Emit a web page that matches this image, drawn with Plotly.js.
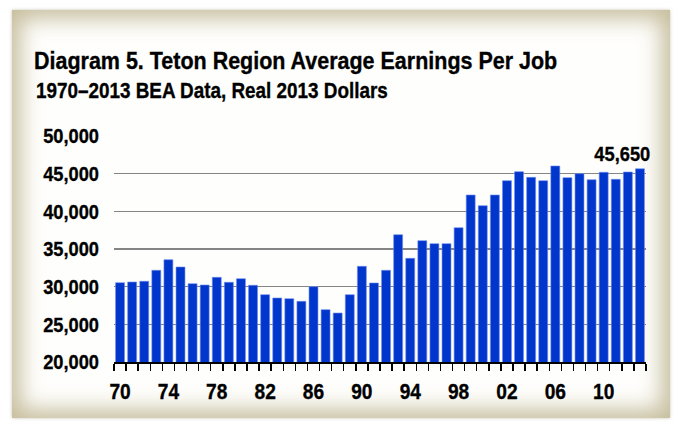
<!DOCTYPE html>
<html>
<head>
<meta charset="utf-8">
<script src="https://cdn.plot.ly/plotly-3.0.1.min.js"></script>
<style>
  html, body { margin: 0; padding: 0; background: #ffffff; }
  #wrap { position: relative; width: 675px; height: 422px; overflow: hidden; }
  #frame {
    position: absolute; left: 12px; top: 10px; width: 658px; height: 408px;
    background: #fefefc;
    box-shadow: inset 0 0 22px 8px rgba(178,165,122,0.75), 0 0 3px rgba(150,140,110,0.5);
  }
  #chart { position: absolute; left: 0; top: 0; width: 675px; height: 422px; }
  #chart text { stroke: #000; stroke-width: 0.35px; }
</style>
</head>
<body>
<div id="wrap">
  <div id="frame"></div>
  <div id="chart"></div>
</div>
<script>
const years = [1970,1971,1972,1973,1974,1975,1976,1977,1978,1979,1980,1981,1982,1983,1984,1985,1986,1987,1988,1989,1990,1991,1992,1993,1994,1995,1996,1997,1998,1999,2000,2001,2002,2003,2004,2005,2006,2007,2008,2009,2010,2011,2012,2013];
const earnings = [30530,30620,30710,32170,33580,32610,30400,30220,31240,30580,31060,30180,28940,28500,28410,28050,30000,26950,26500,28940,32700,30490,32170,36900,33760,36110,35710,35710,37830,42170,40750,42170,44070,45270,44510,44070,46020,44470,45000,44200,45180,44250,45220,45650];
const xTickVals = [1970,1974,1978,1982,1986,1990,1994,1998,2002,2006,2010];
const xTickText = ['70','74','78','82','86','90','94','98','02','06','10'];
const yTickVals = [20000,25000,30000,35000,40000,45000,50000];
const yTickText = ['20,000','25,000','30,000','35,000','40,000','45,000','50,000'];
const lastLabel = '45,650';
const titleText = 'Diagram 5. Teton Region Average Earnings Per Job';
const subtitleText = '1970\u20132013 BEA Data, Real 2013 Dollars';

const FONT = '"Liberation Sans Narrow", "Liberation Sans", Arial, sans-serif';
const NARROW = 0.87;
const XLABEL_DROP = 9;

const yRange = [yTickVals[0], yTickVals[yTickVals.length - 1]];
// category boundaries (tick marks between bars)
const boundaries = years.map(function (y) { return y - 0.5; }).concat([years[years.length - 1] + 0.5]);
const xRange = [boundaries[0], boundaries[boundaries.length - 1]];

const PLOT_H = 422 - 136 - 60;
const TICK_LEN = 7;
const tickY = yRange[0] - (TICK_LEN / 2) / PLOT_H * (yRange[1] - yRange[0]);

const trace = {
  type: 'bar',
  x: years,
  y: earnings,
  marker: { color: '#0036cc', line: { color: '#6f8cf0', width: 0.6 } },
  hoverinfo: 'skip'
};

// tick marks between bars, drawn as unclipped vertical-line markers
const tickTrace = {
  type: 'scatter', mode: 'markers',
  x: boundaries,
  y: boundaries.map(function () { return tickY; }),
  cliponaxis: false,
  marker: { symbol: 'line-ns', size: TICK_LEN, color: '#000', line: { color: '#000', width: 1.5 } },
  hoverinfo: 'skip'
};

const layout = {
  width: 675, height: 422,
  margin: { l: 114, r: 29, t: 136, b: 60 },
  paper_bgcolor: 'rgba(0,0,0,0)',
  plot_bgcolor: 'rgba(0,0,0,0)',
  showlegend: false,
  bargap: 0.26,
  title: {
    text: '<b>' + titleText + '</b>',
    font: { family: FONT, size: 24.7, color: '#000' },
    x: 34/675, xref: 'container', xanchor: 'left',
    y: 1 - 60.5/422, yref: 'container', yanchor: 'middle'
  },
  xaxis: {
    type: 'linear',
    range: xRange,
    tickmode: 'array',
    tickvals: xTickVals,
    ticktext: xTickText,
    ticks: '',
    showgrid: false,
    zeroline: false,
    showline: true, linecolor: '#000', linewidth: 2,
    tickfont: { family: FONT, size: 22, color: '#000', weight: 'bold' },
    minor: { tick0: boundaries[0], dtick: 1, ticks: 'outside', ticklen: TICK_LEN, tickwidth: 1.5, tickcolor: '#000', showgrid: false }
  },
  yaxis: {
    range: yRange,
    tickmode: 'array',
    tickvals: yTickVals,
    ticktext: yTickText,
    ticks: '',
    showgrid: true, gridcolor: '#858585', gridwidth: 1.5,
    zeroline: false, showline: false,
    ticklabelstandoff: 14,
    tickfont: { family: FONT, size: 21, color: '#000', weight: 'bold' }
  },
  annotations: [
    {
      text: '<b>' + subtitleText + '</b>',
      xref: 'paper', yref: 'paper',
      x: (34-114)/532, y: (361.7-90.4)/226,
      xanchor: 'left', yanchor: 'middle',
      showarrow: false,
      font: { family: FONT, size: 21.7, color: '#000' }
    },
    {
      text: '<b>' + lastLabel + '</b>',
      x: years[years.length-1], y: earnings[earnings.length-1],
      xref: 'x', yref: 'y',
      xanchor: 'right', yanchor: 'bottom',
      xshift: 12, yshift: 2,
      showarrow: false,
      font: { family: FONT, size: 21, color: '#000' }
    }
  ]
};

// Emulate a narrow (condensed) bold face by compressing each text horizontally about its anchor.
function narrowTexts(gd) {
  const texts = gd.querySelectorAll('svg text');
  texts.forEach(function (t) {
    if (!t.textContent) return;
    let bb;
    try { bb = t.getBBox(); } catch (e) { return; }
    let anchor = t.getAttribute('text-anchor') || 'start';
    const content = t.textContent;
    if (content === subtitleText) anchor = 'start';
    if (content === lastLabel) anchor = 'end';
    let ox;
    if (anchor === 'end') ox = bb.x + bb.width;
    else if (anchor === 'middle') ox = bb.x + bb.width / 2;
    else ox = bb.x;
    const isXLabel = t.parentNode && t.parentNode.classList && t.parentNode.classList.contains('xtick');
    const drop = isXLabel ? ' translate(0,' + XLABEL_DROP + ')' : '';
    const prev = t.getAttribute('transform') || '';
    t.setAttribute('transform', prev + drop + ' translate(' + ox + ',0) scale(' + NARROW + ',1) translate(' + (-ox) + ',0)');
  });
}

Plotly.newPlot('chart', [trace, tickTrace], layout, { staticPlot: true, displayModeBar: false })
  .then(function (gd) { narrowTexts(gd); });
</script>
</body>
</html>
